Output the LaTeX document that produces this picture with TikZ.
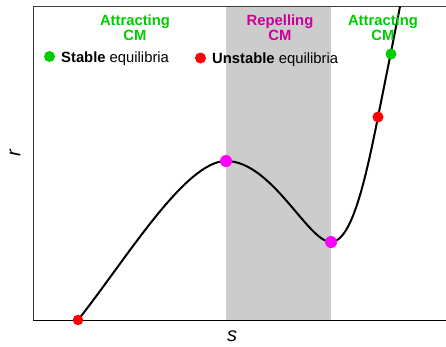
\documentclass[tikz,border=0pt]{standalone}
\usepackage{fontspec}
\setmainfont{Liberation Sans}
\setsansfont{Liberation Sans}
\definecolor{attgreen}{RGB}{0,204,0}
\definecolor{repmag}{RGB}{204,0,153}
\definecolor{dotgreen}{RGB}{0,204,0}
\definecolor{dotred}{RGB}{255,0,0}
\definecolor{dotmag}{RGB}{255,0,255}
\definecolor{band}{RGB}{204,204,204}
\definecolor{axisgray}{RGB}{60,60,60}
\tikzset{
  regionlabel/.style={font=\fontsize{14.8}{15}\selectfont\bfseries, align=center, inner sep=0pt},
  legendtext/.style={font=\fontsize{14.8}{16}\selectfont, anchor=base west, inner sep=0pt},
  eqdot/.style={circle, inner sep=0pt, minimum size=11pt},
  axislabel/.style={font=\fontsize{20}{21}\selectfont\itshape, inner sep=0pt},
}
\begin{document}
\begin{tikzpicture}[x=1pt,y=-1pt]
\useasboundingbox (0,0) rectangle (446,346);
% band
\fill[band] (226,6.5) rectangle (331,320);
% axes
\draw[axisgray, line width=0.9pt] (33,320) -- (33,6.5) -- (446,6.5);
\draw[black, line width=0.9pt] (33,320) -- (446,320);
% curve points
\coordinate (p0) at (78,320);
\coordinate (p1) at (226,161);
\coordinate (p2) at (331,242);
\coordinate (p3) at (378,117);
\coordinate (p4) at (400,6.5);
\coordinate (pg) at (391,54);
\draw[black, line width=2pt]
  (p0) .. controls (125,261) and (185,161) .. (p1)
       .. controls (272,161) and (308,242) .. (p2)
       .. controls (352,242) and (366,177) .. (p3)
       .. controls (382,97) and (396,27) .. (p4);
% dots
\node[eqdot, fill=dotred, minimum size=10.5pt] (d0) at (p0) {};
\node[eqdot, fill=dotmag, minimum size=12pt] (d1) at (p1) {};
\node[eqdot, fill=dotmag, minimum size=12pt] (d2) at (p2) {};
\node[eqdot, fill=dotred] (d3) at (p3) {};
\node[eqdot, fill=dotgreen] (d4) at (pg) {};
% region labels
\node[regionlabel, text=attgreen] (l1) at (135,28) {Attracting\\CM};
\node[regionlabel, text=repmag] (l2) at (280,28) {Repelling\\CM};
\node[regionlabel, text=attgreen] (l3) at (383,28) {Attracting\\CM};
% legend
\node[eqdot, fill=dotgreen] (lg) at (49.5,56.5) {};
\node[legendtext] (tg) at (61,62) {\textbf{Stable} equilibria};
\node[eqdot, fill=dotred] (lr) at (200.5,58) {};
\node[legendtext] (tr) at (212,63) {\textbf{Unstable} equilibria};
% axis labels
\node[axislabel, rotate=90] (rl) at (15,153) {r};
\node[axislabel] (sl) at (232,336) {s};
\end{tikzpicture}
\end{document}
